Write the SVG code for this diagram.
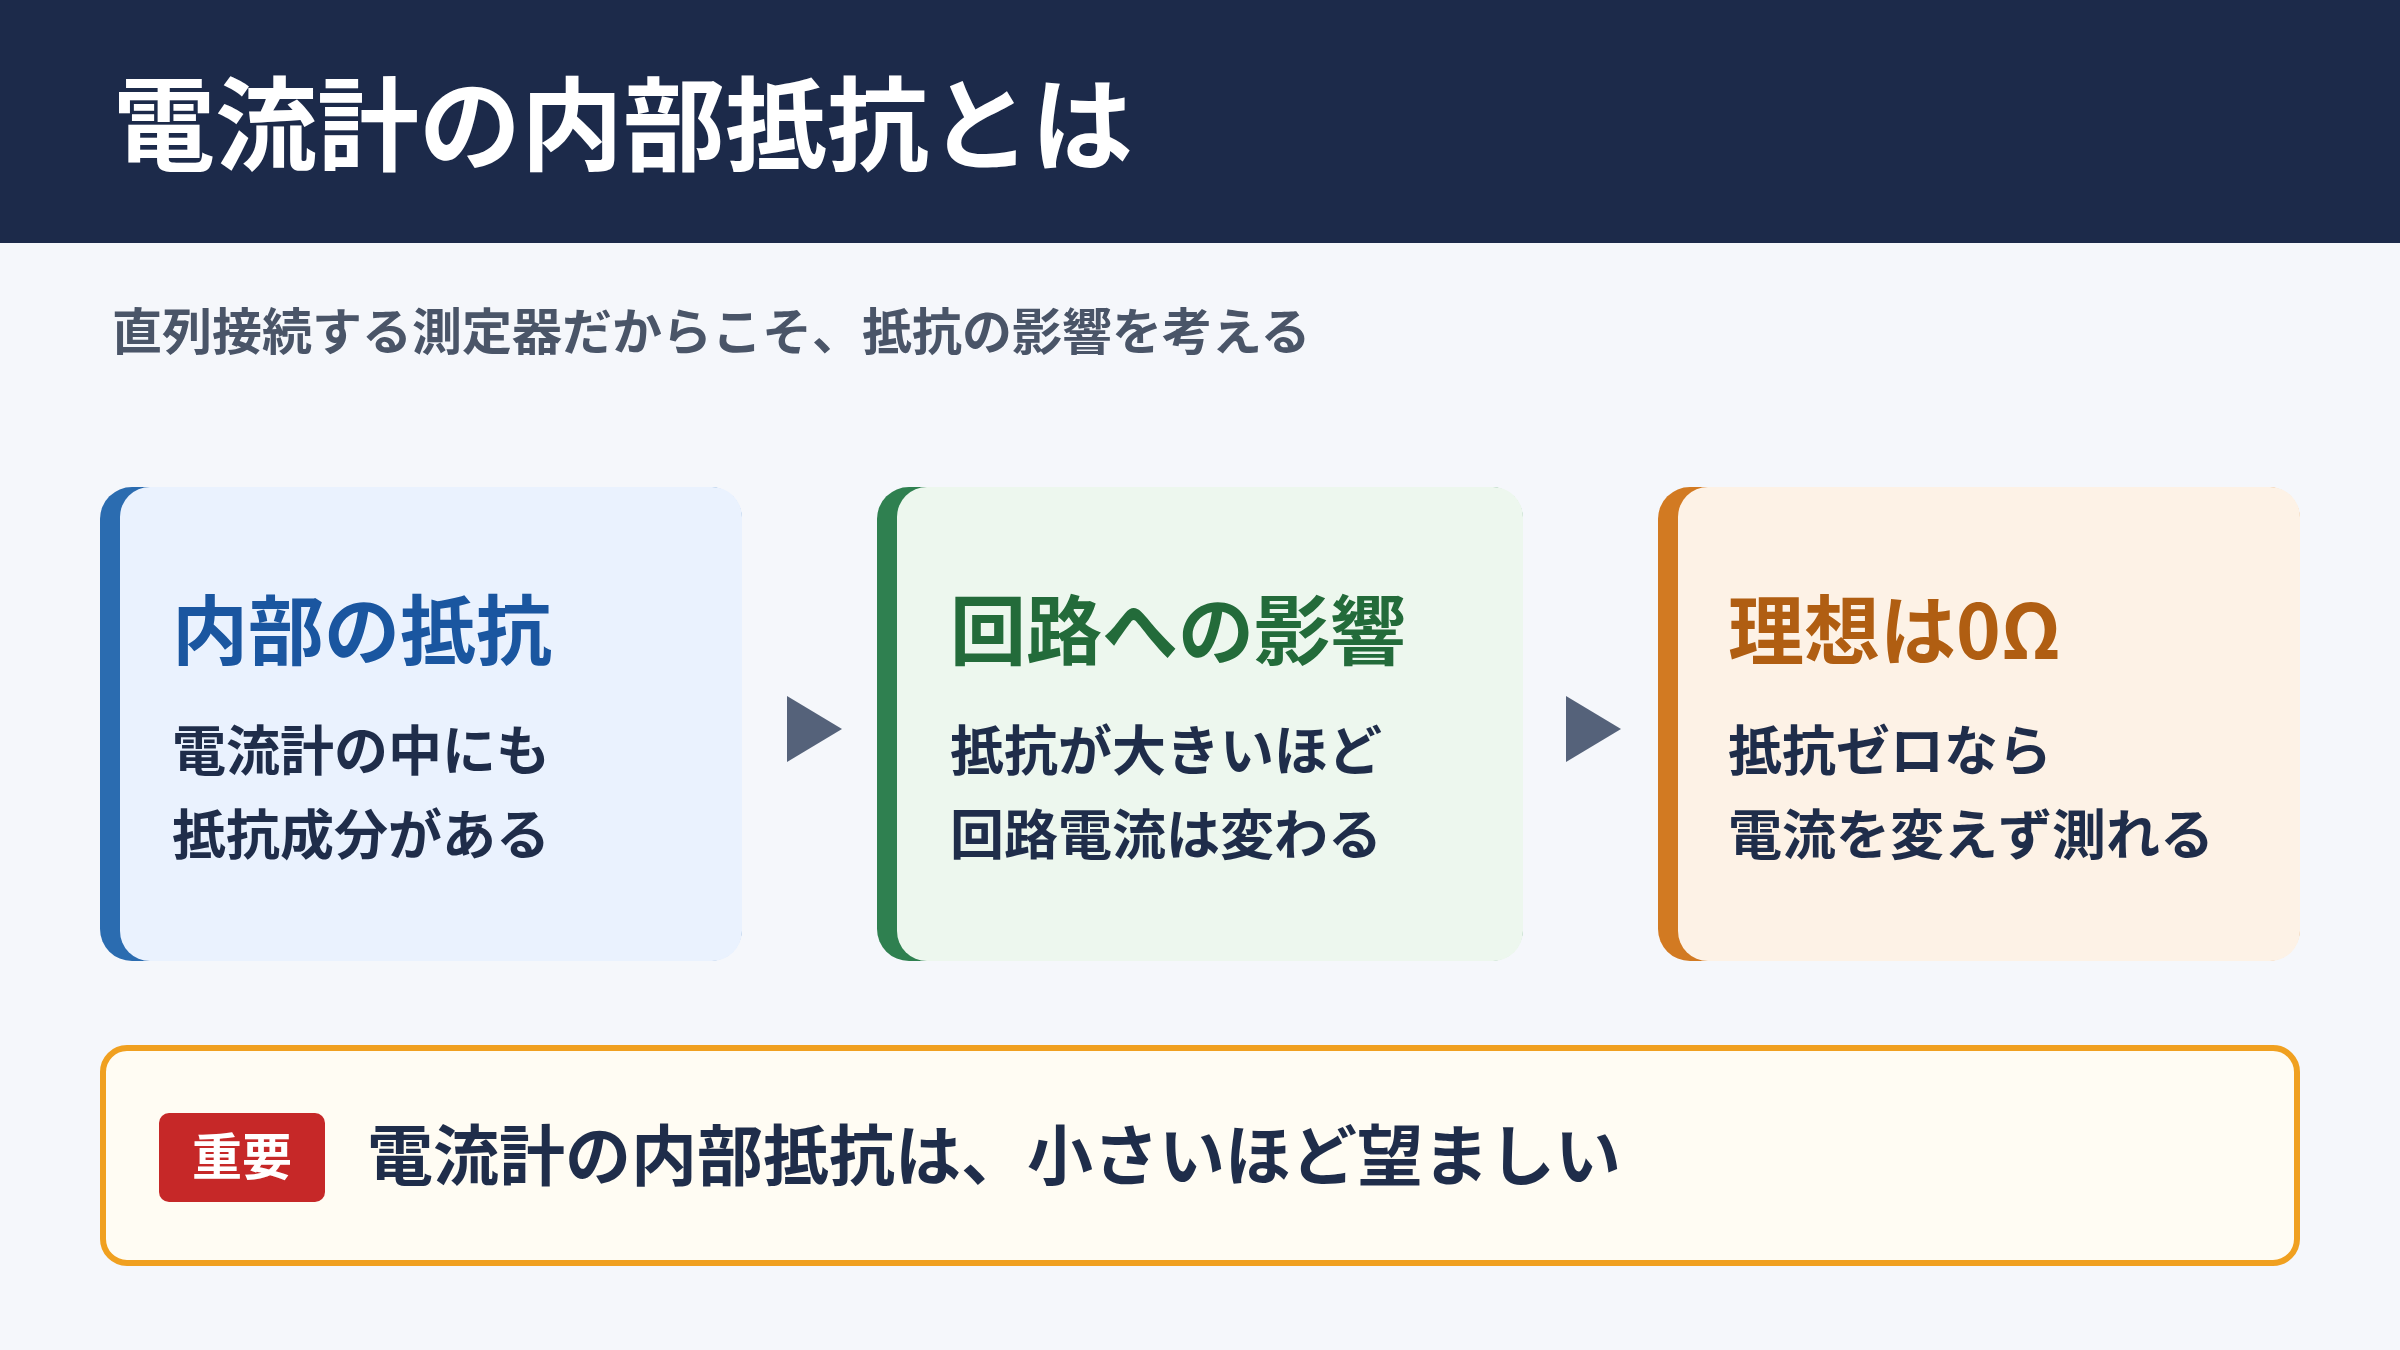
<svg xmlns="http://www.w3.org/2000/svg" width="2400" height="1350" viewBox="0 0 2400 1350">
<style>
text{font-family:"Noto Sans CJK JP","Noto Sans",sans-serif;font-weight:700}
.body{font-size:54px;fill:#1f2d4a}
.ttl{font-size:76px}
</style>
<rect width="2400" height="1350" fill="#f5f7fb"/>
<g id="header"><rect width="2400" height="243" fill="#1c2a4a"/>
<text x="113" y="163" font-size="102" fill="#ffffff">電流計の内部抵抗とは</text></g>
<text x="112" y="350" font-size="50" fill="#4a5568">直列接続する測定器だからこそ、抵抗の影響を考える</text>
<g id="card1"><rect x="100" y="487" width="642" height="474" rx="32" fill="#2b6cb0"/><rect x="120" y="487" width="622" height="474" rx="30" fill="#eaf2fe"/>
<text class="ttl" x="172" y="659" fill="#1a56a0">内部の抵抗</text>
<text class="body" x="172" y="771">電流計の中にも</text><text class="body" x="172" y="855">抵抗成分がある</text></g>
<g id="card2"><rect x="877" y="487" width="646" height="474" rx="32" fill="#2f8050"/><rect x="897" y="487" width="626" height="474" rx="30" fill="#edf7ee"/>
<text class="ttl" x="950" y="659" fill="#236b3a">回路への影響</text>
<text class="body" x="950" y="771">抵抗が大きいほど</text><text class="body" x="950" y="855">回路電流は変わる</text></g>
<g id="card3"><rect x="1658" y="487" width="642" height="474" rx="32" fill="#d27a22"/><rect x="1678" y="487" width="622" height="474" rx="30" fill="#fdf2e6"/>
<text class="ttl" x="1728" y="659" fill="#b05e12">理想は0Ω</text>
<text class="body" x="1728" y="771">抵抗ゼロなら</text><text class="body" x="1728" y="855">電流を変えず測れる</text></g>
<g id="connectors" fill="#55627a"><polygon points="787,696 842,729 787,762"/><polygon points="1566,696 1621,729 1566,762"/></g>
<g id="note"><rect x="103" y="1048" width="2194" height="215" rx="24" fill="#fffcf3" stroke="#f0a020" stroke-width="6"/>
<rect x="159" y="1113" width="166" height="89" rx="10" fill="#c62828"/>
<text x="242" y="1175" font-size="50" fill="#ffffff" text-anchor="middle">重要</text>
<text x="367" y="1180" font-size="66" fill="#1f2d4a">電流計の内部抵抗は、小さいほど望ましい</text></g>
</svg>
